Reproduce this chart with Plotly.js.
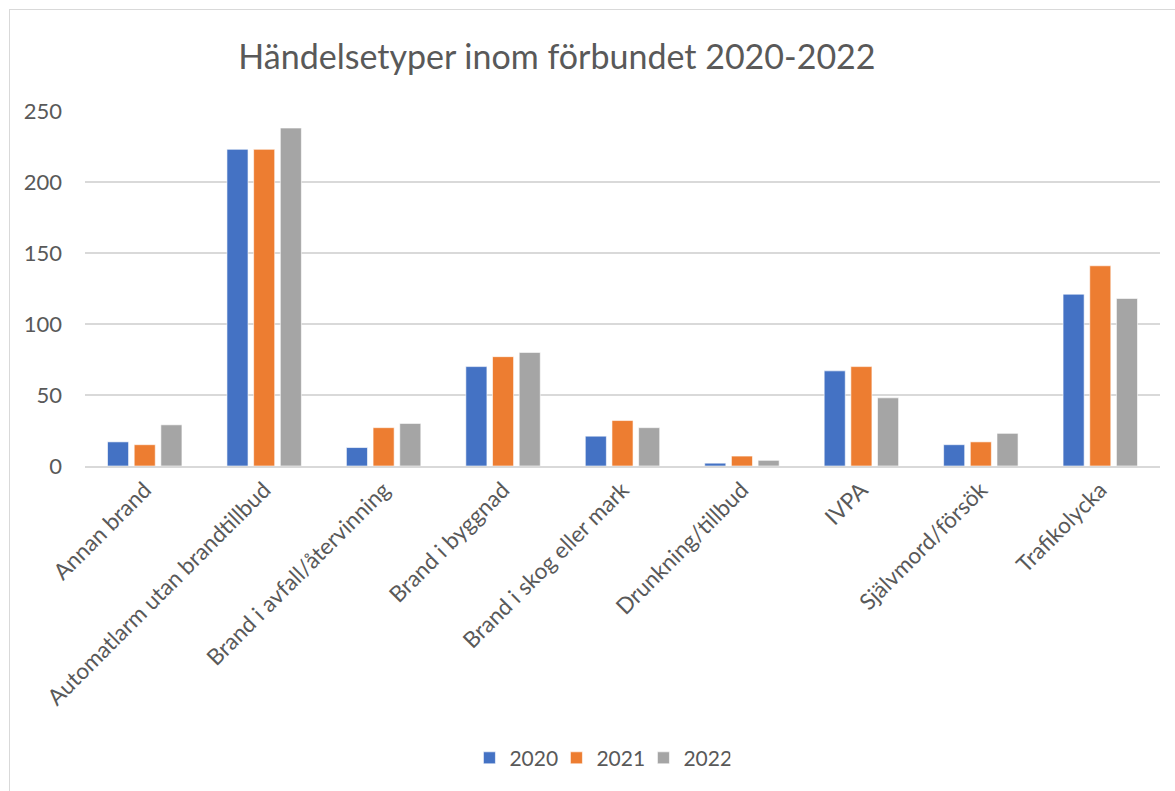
<!DOCTYPE html>
<html>
<head>
<meta charset="utf-8">
<script src="https://cdn.plot.ly/plotly-3.0.1.min.js"></script>
<style>
  html, body { margin: 0; padding: 0; background: #fff; overflow: hidden; }
  #frame { position: absolute; left: 9px; top: 9px; width: 1175px; height: 791px; border: 1px solid #d9d9d9; }
  #chart { width: 1175px; height: 791px; }
</style>
</head>
<body>
<div id="frame"><div id="chart"></div></div>
<script>
const categories = ["Annan brand", "Automatlarm utan brandtillbud", "Brand i avfall/återvinning", "Brand i byggnad", "Brand i skog eller mark", "Drunkning/tillbud", "IVPA", "Självmord/försök", "Trafikolycka"];
const values2020 = [17, 223, 13, 70, 21, 2, 67, 15, 121];
const values2021 = [15, 223, 27, 77, 32, 7, 70, 17, 141];
const values2022 = [29, 238, 30, 80, 27, 4, 48, 23, 118];
const seriesNames = ["2020", "2021", "2022"];
const colors = ["#4472C4", "#ED7D31", "#A5A5A5"];
const yTicks = [0, 50, 100, 150, 200, 250];

const FONT = "Lato, 'Open Sans', sans-serif";
const data = [values2020, values2021, values2022].map((vals, i) => ({
  type: "bar",
  name: seriesNames[i],
  x: categories,
  y: vals,
  marker: { color: colors[i], line: { color: "rgba(255,255,255,0.6)", width: 1 } },
  hoverinfo: "x+y+name"
}));

const layout = {
  width: 1175, height: 791,
  margin: { l: 75, r: 25, t: 101, b: 335 },
  paper_bgcolor: "#fff", plot_bgcolor: "#fff",
  barmode: "group", bargap: 0.33, bargroupgap: 0.21,
  font: { family: FONT, color: "#595959", size: 21 },
  title: {
    text: "Händelsetyper inom förbundet 2020-2022",
    font: { family: FONT, size: 34, color: "#595959" },
    x: 0.4655, xanchor: "center", xref: "container",
    y: 0.9406, yanchor: "middle", yref: "container"
  },
  xaxis: {
    type: "category",
    tickangle: -45,
    showgrid: false,
    showline: true, linecolor: "#d9d9d9", linewidth: 2,
    ticks: "",
    tickfont: { family: FONT, size: 22.5, color: "#595959" },
    automargin: false,
    fixedrange: true
  },
  yaxis: {
    range: [0, 250],
    tickvals: yTicks,
    ticktext: yTicks.map(String),
    showgrid: true, gridcolor: "#d9d9d9", gridwidth: 1.5,
    zeroline: false, showline: false, ticks: "",
    ticklabelstandoff: 22,
    tickfont: { family: FONT, size: 22, color: "#595959" },
    automargin: false,
    fixedrange: true
  },
  showlegend: true,
  legend: {
    orientation: "h",
    x: 0.479, xanchor: "center",
    y: -0.823, yanchor: "middle",
    font: { family: FONT, size: 21, color: "#595959" },
    itemwidth: 30,
    entrywidth: 42, entrywidthmode: "pixels",
    traceorder: "normal"
  }
};

Plotly.newPlot("chart", data, layout, { displayModeBar: false, staticPlot: true });
</script>
</body>
</html>
